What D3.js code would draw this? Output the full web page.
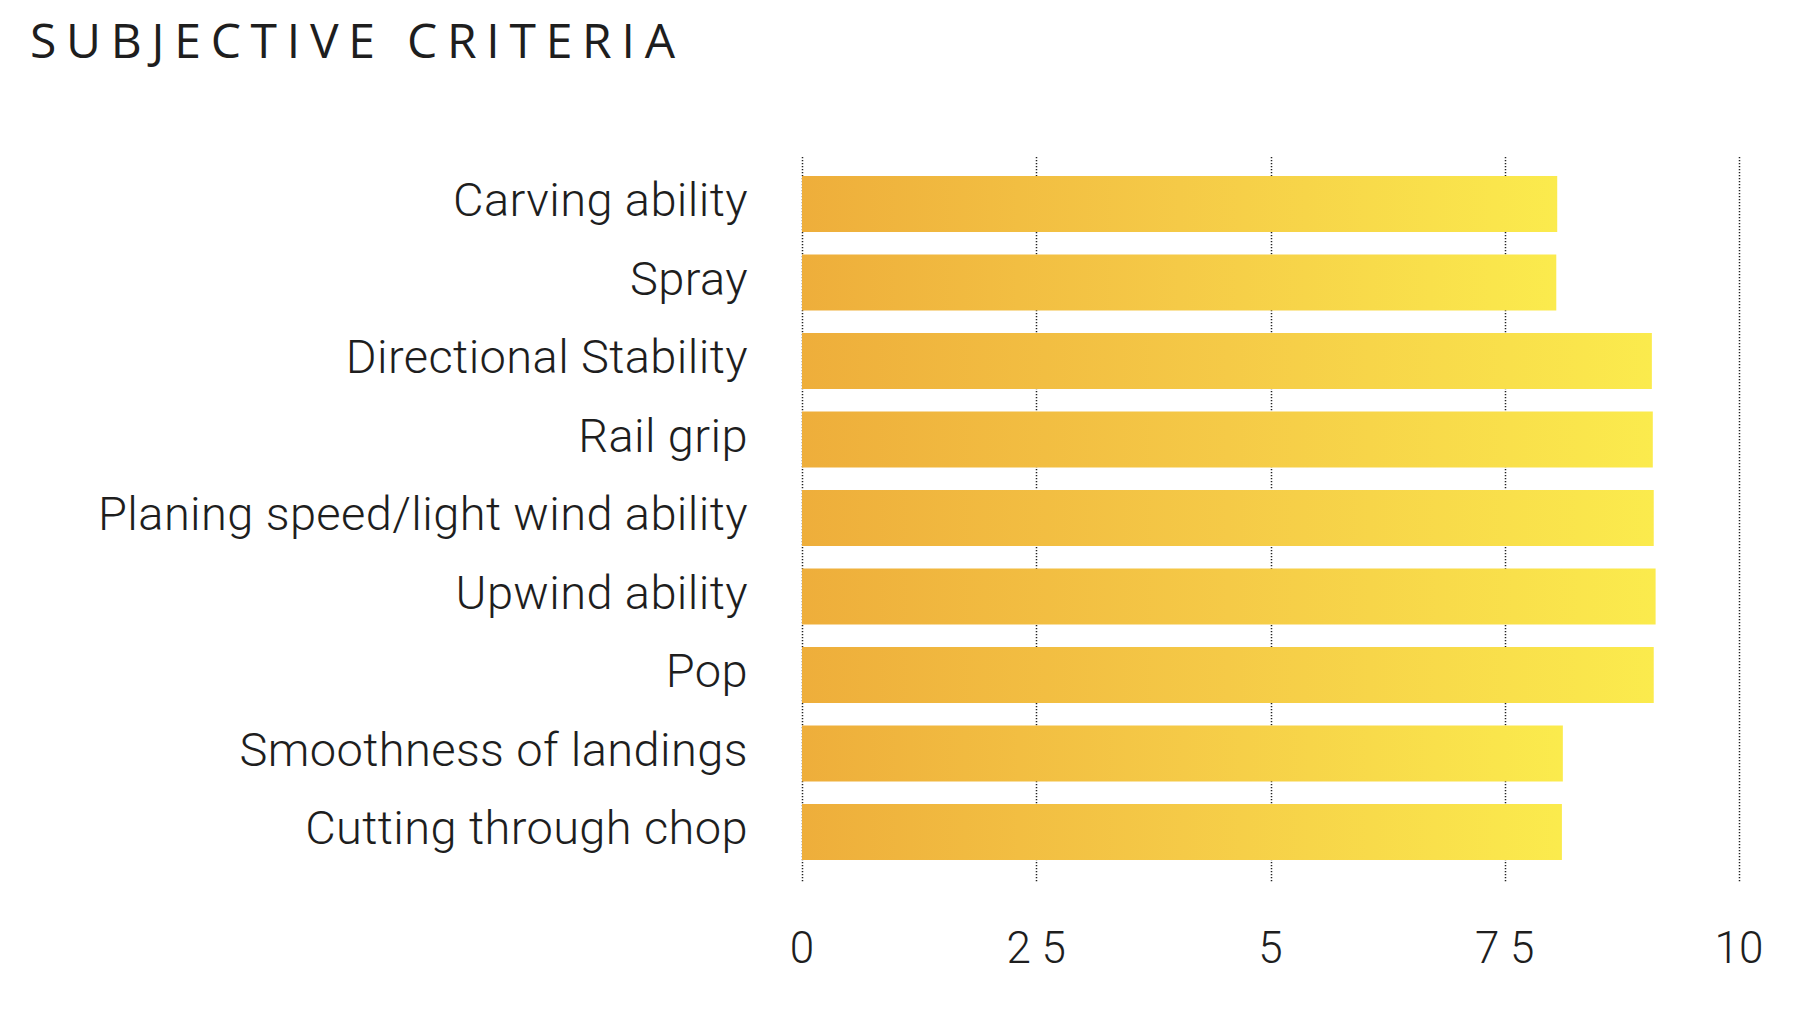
<!DOCTYPE html>
<html>
<head>
<meta charset="utf-8">
<script src="https://cdn.jsdelivr.net/npm/d3@7"></script>
<style>
  html, body { margin: 0; padding: 0; background: #fff; }
  svg { display: block; }
</style>
</head>
<body>
<svg id="chart" width="1794" height="1010"></svg>
<script>
const titleText = "SUBJECTIVE CRITERIA";
const categories = [
  "Carving ability",
  "Spray",
  "Directional Stability",
  "Rail grip",
  "Planing speed/light wind ability",
  "Upwind ability",
  "Pop",
  "Smoothness of landings",
  "Cutting through chop"
];
const values = [8.06, 8.05, 9.07, 9.08, 9.09, 9.11, 9.09, 8.12, 8.11];
const tickValues = [0, 2.5, 5, 7.5, 10];
const tickLabels = ["0", "2 5", "5", "7 5", "10"];

const svg = d3.select("#chart");

const x = d3.scaleLinear().domain([0, 10]).range([802, 1739]);
const y = d3.scaleBand().domain(categories).range([164.75, 871.25]).paddingInner(0.2866).paddingOuter(0.1433);

// gradient
const defs = svg.append("defs");
const grad = defs.append("linearGradient").attr("id", "barGrad")
  .attr("x1", "0%").attr("x2", "100%").attr("y1", "0%").attr("y2", "0%");
grad.append("stop").attr("offset", "0%").attr("stop-color", "#EEAE3B");
grad.append("stop").attr("offset", "50%").attr("stop-color", "#F5CA47");
grad.append("stop").attr("offset", "100%").attr("stop-color", "#FBEB4D");

// title
const title = svg.append("text")
  .attr("x", 30).attr("y", 58)
  .attr("font-family", "'Open Sans', sans-serif")
  .attr("font-size", 48)
  .attr("font-weight", 400)
  .attr("fill", "#1e1e1e")
  .text(titleText);
const natural = title.node().getComputedTextLength();
const ls = (645 - natural) / (titleText.length - 1);
title.attr("letter-spacing", ls);

// gridlines
svg.append("g").selectAll("line").data(tickValues).join("line")
  .attr("x1", d => Math.round(x(d)) + 0.5).attr("x2", d => Math.round(x(d)) + 0.5)
  .attr("y1", 157).attr("y2", 883)
  .attr("stroke", "#222")
  .attr("stroke-width", 1.5)
  .attr("stroke-dasharray", "1.3,1.7");

// bars
svg.append("g").selectAll("rect").data(categories).join("rect")
  .attr("x", x(0))
  .attr("y", d => y(d))
  .attr("width", (d, i) => x(values[i]) - x(0))
  .attr("height", y.bandwidth())
  .attr("fill", "url(#barGrad)");

// category labels
svg.append("g").selectAll("text").data(categories).join("text")
  .attr("x", 748)
  .attr("y", d => y(d) + y.bandwidth() / 2 + 12)
  .attr("text-anchor", "end")
  .attr("font-family", "Roboto, sans-serif")
  .attr("font-weight", 300)
  .attr("font-size", 47)
  .attr("letter-spacing", 0.4)
  .attr("fill", "#1e1e1e")
  .text(d => d);

// tick labels
svg.append("g").selectAll("text").data(tickValues).join("text")
  .attr("x", d => x(d))
  .attr("y", 963)
  .attr("text-anchor", "middle")
  .attr("font-family", "Roboto, sans-serif")
  .attr("font-weight", 300)
  .attr("font-size", 44)
  .attr("fill", "#1e1e1e")
  .text((d, i) => tickLabels[i]);
</script>
</body>
</html>
